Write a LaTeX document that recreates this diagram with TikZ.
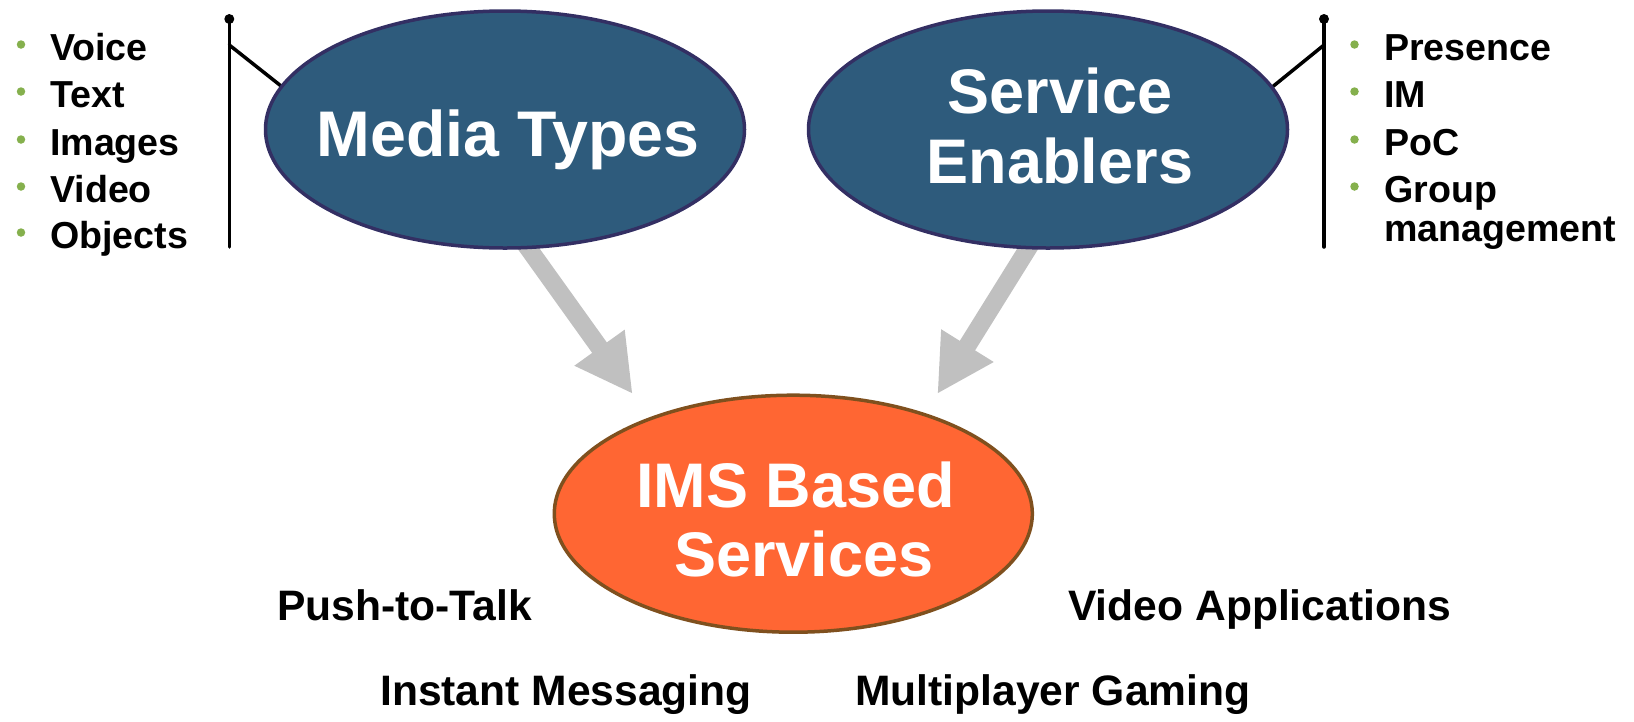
\documentclass[tikz,border=0pt]{standalone}
\usepackage{fontspec}
\setmainfont{Liberation Sans}
\usetikzlibrary{shapes.geometric,arrows.meta}

\definecolor{blueFill}{RGB}{46,91,124}
\definecolor{blueEdge}{RGB}{51,47,99}
\definecolor{orangeFill}{RGB}{255,102,51}
\definecolor{orangeEdge}{RGB}{127,80,30}
\definecolor{arrowGray}{RGB}{192,192,192}
\definecolor{bulletGreen}{RGB}{133,176,77}

\begin{document}
\begin{tikzpicture}[x=1pt,y=-1pt,
  bubble/.style={ellipse, inner sep=0pt, line width=3.5pt},
  bluebubble/.style={bubble, fill=blueFill, draw=blueEdge,
    minimum width=479pt, minimum height=237pt},
  orangebubble/.style={bubble, fill=orangeFill, draw=orangeEdge,
    minimum width=478pt, minimum height=237pt},
  title/.style={text=white, inner sep=0pt, anchor=base,
    font=\fontsize{63}{70}\selectfont\bfseries},
  item/.style={inner sep=0pt, anchor=base west,
    font=\fontsize{37.6}{44}\selectfont\bfseries},
  service/.style={inner sep=0pt, anchor=base west,
    font=\fontsize{42.6}{50}\selectfont\bfseries},
  bullet/.style={circle, fill=bulletGreen, inner sep=0pt, minimum size=8.5pt},
  pole/.style={line width=3.5pt, line cap=round},
  knob/.style={circle, fill=black, inner sep=0pt, minimum size=10pt},
  feed/.style={line width=18pt, draw=arrowGray,
    -{Triangle[width=57.5pt,length=57pt]}},
]
\useasboundingbox (0,0) rectangle (1634,721);

% grey arrows into the services bubble (drawn first, the bubbles cover their tails)
\coordinate (mediaOut) at (522.4,240);
\coordinate (mediaIn)  at (632.7,394);
\coordinate (enabOut)  at (1033.2,240);
\coordinate (enabIn)   at (937.3,394);
\draw[feed] (mediaOut) -- (mediaIn);
\draw[feed] (enabOut) -- (enabIn);

% flag poles holding the two lists
\coordinate (poleLtop) at (229.3,19);
\coordinate (poleLbot) at (229.3,247);
\coordinate (poleLarm) at (229.3,45);
\coordinate (poleLend) at (300,101);
\draw[pole] (poleLtop) -- (poleLbot);
\draw[pole] (poleLarm) -- (poleLend);
\node[knob] (knobL) at (poleLtop) {};

\coordinate (poleRtop) at (1324,19);
\coordinate (poleRbot) at (1324,247);
\coordinate (poleRarm) at (1324,45);
\coordinate (poleRend) at (1255,101);
\draw[pole] (poleRtop) -- (poleRbot);
\draw[pole] (poleRarm) -- (poleRend);
\node[knob] (knobR) at (poleRtop) {};

% bubbles
\node[bluebubble] (media) at (505,129.5) {};
\node[bluebubble] (enab) at (1048,129.5) {};
\node[orangebubble] (ims) at (793.3,513.7) {};

\node[title, font=\fontsize{64.5}{70}\selectfont\bfseries] (mediaT) at (508,156) {Media Types};
\node[title] (enabT1) at (1060,113) {Service};
\node[title] (enabT2) at (1060,183) {Enablers};
\node[title] (imsT1) at (795.7,507.7) {IMS Based};
\node[title] (imsT2) at (804,576) {Services};

% media types list
\node[bullet] (bl1) at (21,44.5) {};
\node[bullet] (bl2) at (21,91.5) {};
\node[bullet] (bl3) at (21,139.5) {};
\node[bullet] (bl4) at (21,186.5) {};
\node[bullet] (bl5) at (21,232.5) {};
\node[item] (il1) at (50,60) {Voice};
\node[item] (il2) at (50,107) {Text};
\node[item] (il3) at (50,155) {Images};
\node[item] (il4) at (50,202) {Video};
\node[item] (il5) at (50,248) {Objects};

% service enablers list
\node[bullet] (br1) at (1354.5,44.5) {};
\node[bullet] (br2) at (1354.5,91.5) {};
\node[bullet] (br3) at (1354.5,139.5) {};
\node[bullet] (br4) at (1354.5,186.5) {};
\node[item] (ir1) at (1384,60) {Presence};
\node[item] (ir2) at (1384,107) {IM};
\node[item] (ir3) at (1384,155) {PoC};
\node[item] (ir4) at (1384,202) {Group};
\node[item] (ir5) at (1384,241) {management};

% example services
\node[service] (ptt) at (277,620.7) {Push-to-Talk};
\node[service] (im) at (380,705) {Instant Messaging};
\node[service] (video) at (1068,620.7) {Video Applications};
\node[service] (game) at (855,705) {Multiplayer Gaming};
\end{tikzpicture}
\end{document}
